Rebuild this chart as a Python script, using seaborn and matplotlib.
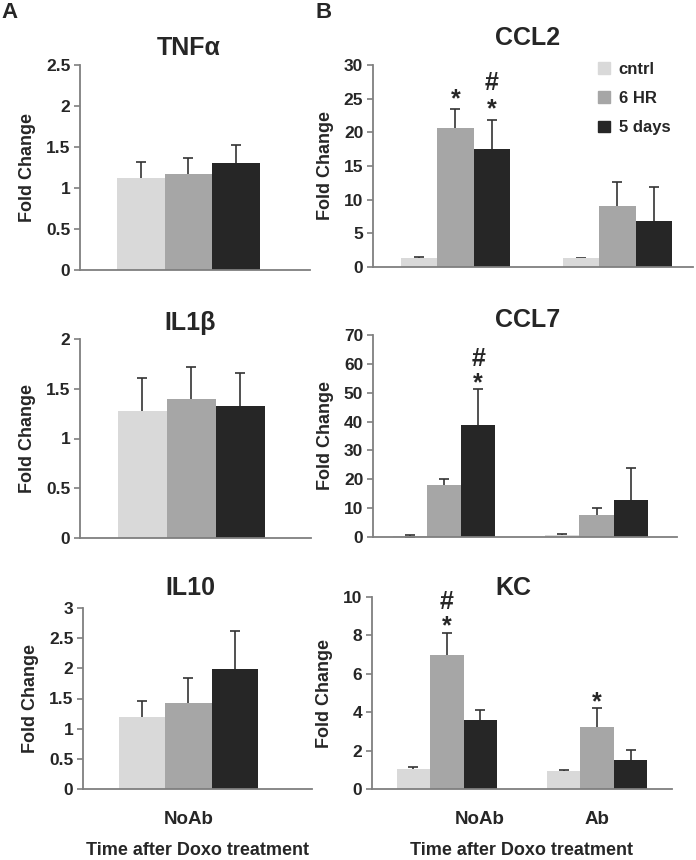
import numpy as np
import pandas as pd
import matplotlib
matplotlib.use('Agg')
import matplotlib.pyplot as plt
import seaborn as sns

# treatment times (hue) and colours
times = ['cntrl', '6 HR', '5 days']
colors = ['#d9d9d9', '#a6a6a6', '#262626']

# panel A (NoAb only)
tnfa_mean = [1.12, 1.17, 1.31]
tnfa_err = [0.20, 0.19, 0.21]
il1b_mean = [1.28, 1.40, 1.33]
il1b_err = [0.33, 0.32, 0.33]
il10_mean = [1.20, 1.43, 1.99]
il10_err = [0.26, 0.41, 0.63]

# panel B (NoAb, Ab)
ccl2_noab = [1.3, 20.6, 17.5]
ccl2_noab_err = [0.15, 2.8, 4.4]
ccl2_ab = [1.3, 9.0, 6.9]
ccl2_ab_err = [0.1, 3.6, 5.0]

ccl7_noab = [0.35, 18.0, 38.7]
ccl7_noab_err = [0.25, 2.1, 12.7]
ccl7_ab = [0.6, 7.6, 12.7]
ccl7_ab_err = [0.4, 2.6, 11.3]

kc_noab = [1.04, 7.0, 3.57]
kc_noab_err = [0.11, 1.1, 0.56]
kc_ab = [0.95, 3.23, 1.53]
kc_ab_err = [0.05, 0.99, 0.52]

# significance marks: (group, time, y, symbol)
ccl2_notes = [(0, 1, 26.0, '*'), (0, 2, 27.5, '#'), (0, 2, 24.5, '*')]
ccl7_notes = [(0, 2, 62.2, '#'), (0, 2, 55.9, '*')]
kc_notes = [(0, 1, 9.8, '#'), (0, 1, 8.85, '*'), (1, 1, 4.9, '*')]

W, H = 696, 860
sns.set_style('ticks')
plt.rcParams['font.family'] = ['Liberation Sans', 'DejaVu Sans']
plt.rcParams['font.weight'] = 'bold'

fig = plt.figure(figsize=(W / 100, H / 100), dpi=100)

# baseline shift (points) that puts the glyph's middle on the target y
glyph_mid = {'*': 10.5, '#': 6.0}


def px_rect(l, t, r, b):
    return [l / W, 1 - b / H, (r - l) / W, (b - t) / H]


def draw(rect, groups, means, errs, ymax, ystep, xlim, notes=(), title='', title_xy=(0, 0)):
    ax = fig.add_axes(px_rect(*rect))
    df = pd.DataFrame({'group': np.repeat(groups, 3),
                       'time': times * len(groups),
                       'value': np.concatenate(means)})
    sns.barplot(data=df, x='group', y='value', hue='time', hue_order=times,
                palette=colors, width=0.67, saturation=1, errorbar=None,
                legend=False, ax=ax, linewidth=0)
    bars = list(ax.containers)
    for i, cont in enumerate(bars):
        for j, bar in enumerate(cont):
            xc = bar.get_x() + bar.get_width() / 2
            ax.errorbar(xc, bar.get_height(), yerr=errs[j][i], fmt='none',
                        ecolor='#333333', elinewidth=1.2, capsize=3.5,
                        capthick=1.2, zorder=0.5)
    for g, t, y, s in notes:
        bar = bars[t][g]
        ax.annotate(s, (bar.get_x() + bar.get_width() / 2, y),
                    xytext=(0, -glyph_mid[s]), textcoords='offset points',
                    ha='center', va='baseline', fontsize=18, fontweight='bold')
    ax.set_xlim(*xlim)
    ax.set_ylim(0, ymax)
    ax.set_yticks(np.arange(0, ymax + ystep / 2, ystep))
    ax.yaxis.set_major_formatter(matplotlib.ticker.FuncFormatter(lambda v, p: f'{v:g}'))
    ax.tick_params(axis='y', labelsize=12.5, length=4, width=1.2, color='#7f7f7f', pad=3)
    ax.tick_params(axis='x', length=0, labelsize=13.5, pad=16)
    ax.set_xticks([])
    ax.set_xlabel('')
    ax.set_ylabel('Fold Change', fontsize=13, fontweight='bold', labelpad=7)
    for side in ['top', 'right']:
        ax.spines[side].set_visible(False)
    for side in ['left', 'bottom']:
        ax.spines[side].set_color('#7f7f7f')
        ax.spines[side].set_linewidth(1.3)
    for lbl in ax.get_yticklabels():
        lbl.set_fontweight('bold')
    fig.text(title_xy[0] / W, 1 - title_xy[1] / H, title, ha='center', va='baseline',
             fontsize=18, fontweight='bold')
    return ax


# column A
draw((80, 65, 310, 270), ['NoAb'], [tnfa_mean], [tnfa_err], 2.5, 0.5,
     (-0.508, 0.569), title='TNFα', title_xy=(189, 55))
draw((80, 339, 311, 538), ['NoAb'], [il1b_mean], [il1b_err], 2, 0.5,
     (-0.508, 0.545), title='IL1β', title_xy=(190, 330))
ax_il10 = draw((83, 608, 312, 789), ['NoAb'], [il10_mean], [il10_err], 3, 0.5,
               (-0.508, 0.595), title='IL10', title_xy=(190, 595))

# column B
ax_ccl2 = draw((373, 65, 693, 267), ['NoAb', 'Ab'], [ccl2_noab, ccl2_ab],
               [ccl2_noab_err, ccl2_ab_err], 30, 5, (-0.509, 1.466),
               ccl2_notes, title='CCL2', title_xy=(528, 45))
draw((373, 335, 677, 537), ['NoAb', 'Ab'], [ccl7_noab, ccl7_ab],
     [ccl7_noab_err, ccl7_ab_err], 70, 10, (-0.466, 1.528),
     ccl7_notes, title='CCL7', title_xy=(528, 327))
ax_kc = draw((372, 597, 672, 789), ['NoAb', 'Ab'], [kc_noab, kc_ab],
             [kc_noab_err, kc_ab_err], 10, 2, (-0.5, 1.5),
             kc_notes, title='KC', title_xy=(513, 595))

# bottom x labels
ax_il10.set_xticks([0])
ax_il10.set_xticklabels(['NoAb'], fontweight='bold')
ax_kc.set_xticks([0.22, 1.0])
ax_kc.set_xticklabels(['NoAb', 'Ab'], fontweight='bold')
for ax in (ax_il10, ax_kc):
    ax.set_xlabel('Time after Doxo treatment', fontsize=13, fontweight='bold', labelpad=10)

# legend
handles = [matplotlib.patches.Patch(color=c) for c in colors]
ax_ccl2.legend(handles, times, loc='upper left', bbox_to_anchor=(598 / W, 1 - 62 / H),
               bbox_transform=fig.transFigure, frameon=False,
               handlelength=0.7, handleheight=0.7, handletextpad=0.55,
               labelspacing=0.85, borderaxespad=0, borderpad=0,
               prop={'weight': 'bold', 'size': 12})

# panel letters
fig.text(10 / W, 1 - 13 / H, 'A', ha='center', va='center', fontsize=16, fontweight='bold')
fig.text(324 / W, 1 - 13 / H, 'B', ha='center', va='center', fontsize=16, fontweight='bold')

fig.savefig('out.png', dpi=100)
